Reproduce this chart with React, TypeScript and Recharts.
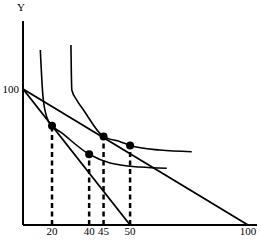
import { ComposedChart, Line, Scatter, XAxis, YAxis, ReferenceLine } from 'recharts'

// the drawing is schematic, so ticks sit where the picture puts them
const xTickPos = [12.9, 29.4, 35.8, 47.6, 100]
const xTickLabels = ['20', '40', '45', '50', '100']
const yTickPos = [100]
const yTickLabels = ['100']

const budgetWide = [
  { x: 0, y: 100 },
  { x: 100, y: 0 },
]
const budgetNarrow = [
  { x: 0, y: 100 },
  { x: 47.6, y: 0 },
]

const curveLow = [
  { x: 7.7, y: 128.7 },
  { x: 8.9, y: 94.1 },
  { x: 10.7, y: 78.7 },
  { x: 12.9, y: 72.9 },
  { x: 16.6, y: 68.4 },
  { x: 29.4, y: 52 },
  { x: 38.7, y: 45.6 },
  { x: 52, y: 42.6 },
  { x: 63.9, y: 41.7 },
]
const curveHigh = [
  { x: 21.3, y: 132.4 },
  { x: 21.7, y: 99.3 },
  { x: 23.9, y: 91.9 },
  { x: 26.9, y: 84.6 },
  { x: 35.8, y: 65 },
  { x: 43.2, y: 61.3 },
  { x: 47.6, y: 58.5 },
  { x: 60.9, y: 55.1 },
  { x: 75, y: 53.9 },
]

const choicePoints = [
  { x: 12.9, y: 72.9 },
  { x: 29.4, y: 52 },
  { x: 35.8, y: 65 },
  { x: 47.6, y: 58.5 },
]

const font = '"Liberation Serif", "DejaVu Serif", serif'

function Dot(props: any) {
  return <circle cx={props.cx} cy={props.cy} r={4} fill="#000" />
}

export default function App() {
  return (
    <div style={{ position: 'absolute', left: 0, top: 0, width: 261, height: 240, background: '#fff' }}>
      <span style={{ position: 'absolute', left: 17, top: 1, fontFamily: font, fontSize: 11, lineHeight: '13px' }}>Y</span>
      <ComposedChart width={261} height={240} margin={{ top: 21, right: 4, bottom: 0, left: 0 }}>
        <XAxis
          type="number"
          dataKey="x"
          domain={[0, 104]}
          ticks={xTickPos}
          tickFormatter={(v: number) => xTickLabels[xTickPos.indexOf(v)]}
          tickLine={false}
          tickSize={0}
          tickMargin={2}
          height={15}
          axisLine={{ stroke: '#000', strokeWidth: 2 }}
          tick={{ fill: '#000', fontSize: 11, fontFamily: font }}
          interval={0}
        />
        <YAxis
          type="number"
          domain={[0, 150]}
          ticks={yTickPos}
          tickFormatter={(v: number) => yTickLabels[yTickPos.indexOf(v)]}
          tickLine={false}
          tickSize={0}
          tickMargin={4}
          width={23}
          axisLine={{ stroke: '#000', strokeWidth: 2 }}
          tick={{ fill: '#000', fontSize: 11, fontFamily: font }}
        />
        {choicePoints.map((p) => (
          <ReferenceLine
            key={p.x}
            segment={[{ x: p.x, y: 0 }, { x: p.x, y: p.y }]}
            stroke="#000"
            strokeWidth={2.5}
            strokeDasharray="5 3.5"
          />
        ))}
        <Line data={budgetWide} dataKey="y" type="linear" stroke="#000" strokeWidth={1.8} dot={false} isAnimationActive={false} />
        <Line data={budgetNarrow} dataKey="y" type="linear" stroke="#000" strokeWidth={1.8} dot={false} isAnimationActive={false} />
        <Line data={curveLow} dataKey="y" type="monotone" stroke="#000" strokeWidth={1.6} dot={false} isAnimationActive={false} />
        <Line data={curveHigh} dataKey="y" type="monotone" stroke="#000" strokeWidth={1.6} dot={false} isAnimationActive={false} />
        <Scatter data={choicePoints} dataKey="y" shape={<Dot />} isAnimationActive={false} />
      </ComposedChart>
    </div>
  )
}
